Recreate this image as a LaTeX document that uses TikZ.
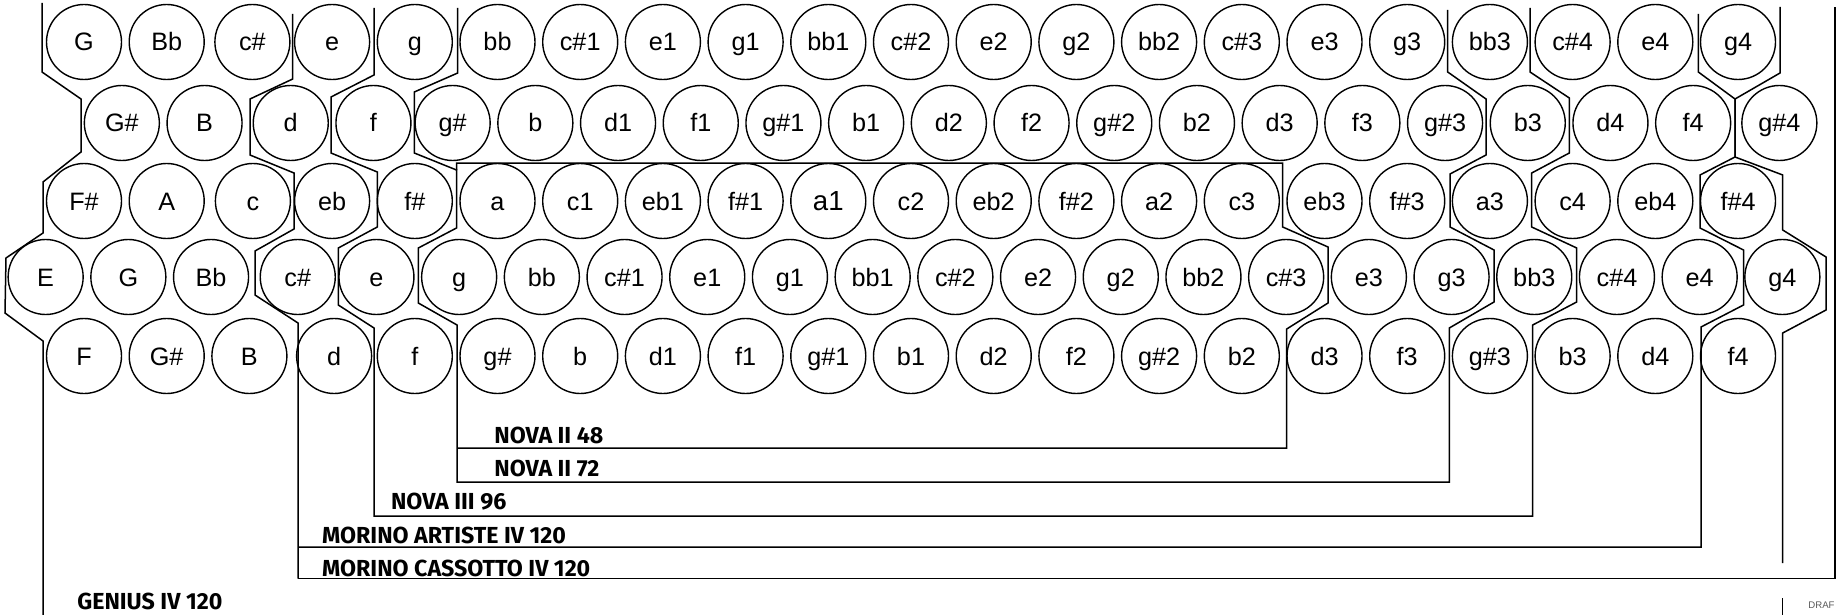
\documentclass[tikz,border=0pt]{standalone}
\usepackage{fontspec}
\setmainfont{Liberation Sans}
\newfontfamily\labfont{Fira Sans}
\newcommand\bigkey{\fontsize{13.8}{15}\selectfont}
\begin{document}
\begin{tikzpicture}[x=0.5pt,y=-0.5pt,
  key/.style={circle, draw, line width=0.7pt, minimum size=37.5pt, inner sep=0pt,
    text height=9pt, text depth=0pt, font=\fontsize{12.6}{14}\selectfont},
  bound/.style={line width=0.75pt},
  model/.style={anchor=base west, inner sep=0pt, font=\labfont\bfseries\fontsize{11.6}{13}\selectfont}]
\useasboundingbox[fill=white] (0,0) rectangle (1836,615);
% row 1
\foreach \t/\d [count=\i from 0] in {G/0,Bb/0,c\#/3,e/0,g/0,bb/0,c\#1/0,e1/0,g1/0,bb1/0,c\#2/0,e2/0,g2/0,bb2/0,c\#3/0,e3/0,g3/0,bb3/0,c\#4/0,e4/0,g4/0}
  \node[key, name=ra\i] at ({84+82.7*\i+\d},42) {\t};
% row 2
\foreach \t/\d [count=\i from 0] in {G\#/-3.5,B/-3.5,d/0,f/0,g\#/-3.5,b/-3.5,d1/-3.5,f1/-3.5,g\#1/-3.5,b1/-3.5,d2/-3.5,f2/-3.5,g\#2/-3.5,b2/-3.5,d3/-3.5,f3/-3.5,g\#3/-3.5,b3/-3.5,d4/-3.5,f4/-3.5,g\#4/0}
  \node[key, name=rb\i] at ({125.35+82.7*\i+\d},123) {\t};
% row 3
\foreach \t/\d [count=\i from 0] in {F\#/0,A/0,c/3.5,eb/0,f\#/0,a/0,c1/0,eb1/0,f\#1/0,\bigkey a1/0,c2/0,eb2/0,f\#2/0,a2/0,c3/0,eb3/0,f\#3/0,a3/0,c4/0,eb4/0,f\#4/0}
  \node[key, name=rc\i] at ({84+82.7*\i+\d},201) {\t};
% row 4
\foreach \t/\d [count=\i from 0] in {E/3,G/3,Bb/3,c\#/7,e/3,g/3,bb/3,c\#1/3,e1/3,g1/3,bb1/3,c\#2/3,e2/3,g2/3,bb2/3,c\#3/3,e3/3,g3/3,bb3/3,c\#4/3,e4/3,g4/3}
  \node[key, name=rd\i] at ({42.65+82.7*\i+\d},277) {\t};
% row 5
\foreach \t/\d [count=\i from 0] in {F/0,G\#/0,B/0,d/2,f/0,g\#/0,b/0,d1/0,f1/0,g\#1/0,b1/0,d2/0,f2/0,g\#2/0,b2/0,d3/0,f3/0,g\#3/0,b3/0,d4/0,f4/0}
  \node[key, name=re\i] at ({84+82.7*\i+\d},356) {\t};

% GENIUS IV 120 left
\draw[bound] (42,3)--(42,72)--(81,99)--(81,152)--(43,182)--(43,233)--(6,258)--(5,313)--(43,341)--(43,615);
% MORINO left
\draw[bound] (292.7,14)--(292.7,79)--(250,99)--(250,155)--(294,173)--(294,229)--(255,251)--(255,295)--(298,323)--(298,578.5);
% NOVA III 96
\draw[bound] (374,8)--(374,75)--(331,97)--(331,153)--(377.3,172)--(377.3,227)--(338.3,248)--(338.3,305)--(374,328)--(374,516)
  --(1532.7,516)--(1532.7,325)--(1576.7,302)--(1576.7,248)--(1531.7,227)--(1531.7,173)--(1569.3,153)--(1569.3,98)--(1530,72)--(1530,8);
% NOVA II 72
\draw[bound] (457.7,8)--(457.7,73)--(414.3,92)--(414.3,153)--(456.5,170)--(456.5,228)--(418.3,248)--(418.3,303)--(457,325)--(457,482)
  --(1449.3,482)--(1449.3,328)--(1494,302)--(1494,250)--(1450,227)--(1450,174)--(1486,155)--(1486,99)--(1447.7,72)--(1447.7,10);
% NOVA II 48
\draw[bound] (456.5,170)--(456.5,163)--(1282.7,163)--(1282.7,227)--(1328,247)--(1328,303)--(1286.7,329)--(1286.7,448)--(457,448);
% MORINO ARTISTE right
\draw[bound] (298,547)--(1701,547)--(1701,327)--(1743.5,305)--(1743.5,250)--(1700,228)--(1700,175)--(1735,157)--(1735,99)--(1698.3,72)--(1698.3,14);
% GENIUS right
\draw[bound] (1780,7)--(1780,73)--(1735,99)--(1735,157)--(1782.7,175)--(1782.7,230)--(1826,257)--(1826,310)--(1782.7,333)--(1782.7,563);
\draw[bound] (1782.7,598)--(1782.7,615);
% MORINO CASSOTTO
\draw[bound] (298,578.5)--(1835,578.5)--(1835,7);

\node[model] (n48) at (494,443.3) {NOVA II 48};
\node[model] (n72) at (494,476) {NOVA II 72};
\node[model] (n96) at (390.7,509) {NOVA III 96};
\node[model] (art) at (321.7,543.3) {MORINO ARTISTE IV 120};
\node[model] (cas) at (321.7,576) {MORINO CASSOTTO IV 120};
\node[model] (gen) at (77,609.3) {GENIUS IV 120};
\node[anchor=base west, inner sep=0pt, text=black!65, font=\fontsize{4.8}{5}\selectfont] (draft) at (1808,608) {DRAF};
\end{tikzpicture}
\end{document}
